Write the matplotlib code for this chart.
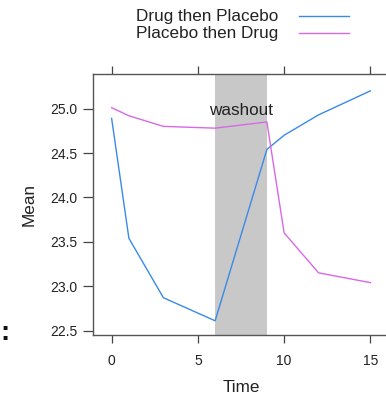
#!/usr/bin/env python3

import matplotlib
matplotlib.use("Agg")
import matplotlib.pyplot as plt
from matplotlib.lines import Line2D

plt.rcParams['font.family'] = ['Liberation Sans', 'DejaVu Sans']

time = [0, 1, 3, 6, 9, 10, 12, 15]
drug_then_placebo = [24.89, 23.54, 22.87, 22.61, 24.54, 24.70, 24.93, 25.20]
placebo_then_drug = [25.01, 24.92, 24.80, 24.78, 24.85, 23.60, 23.15, 23.04]
series_names = ["Drug then Placebo", "Placebo then Drug"]
series_colors = ["#3a8ae8", "#d868e4"]
washout = (6, 9)

x_ticks = [0, 5, 10, 15]
y_ticks = [22.5, 23.0, 23.5, 24.0, 24.5, 25.0]

W, H = 386, 394
fig = plt.figure(figsize=(W / 100, H / 100), dpi=100)
# right frame edge sits just past the image edge (cropped)
ax = fig.add_axes([93 / W, 1 - 335 / H, (389 - 93) / W, (335 - 74) / H])

ax.axvspan(washout[0], washout[1], color="#c8c8c8", lw=0, zorder=0)
ax.text((washout[0] + washout[1]) / 2, 24.93, "washout", ha="center", va="baseline",
	fontsize=12.3, color="#222222")

ax.plot(time, drug_then_placebo, color=series_colors[0], lw=1.0)
ax.plot(time, placebo_then_drug, color=series_colors[1], lw=1.0)

ax.set_xlim(-1.08, 16.08)
ax.set_ylim(22.45, 25.39)
ax.set_xticks(x_ticks)
ax.set_xticklabels([str(t) for t in x_ticks])
ax.set_yticks(y_ticks)
ax.set_yticklabels(["{0:.1f}".format(v) for v in y_ticks])

for s in ax.spines.values() :
	s.set_color("#555555")
	s.set_linewidth(1.0)

ax.tick_params(axis="x", which="both", direction="out", top=True, bottom=True,
	length=6, width=0.9, color="#444444", labelsize=10, pad=8, labelcolor="#222222")
ax.tick_params(axis="y", direction="out", left=True, right=False,
	length=7, width=0.9, color="#444444", labelsize=10, pad=4, labelcolor="#222222")

ax.set_xlabel("Time", fontsize=12.3, labelpad=8, color="#222222")
ax.set_ylabel("Mean", fontsize=12.3, labelpad=10, color="#222222")

# key at the top, text then line sample
for n, (name, col) in enumerate(zip(series_names, series_colors)) :
	yc = 1 - (16 + n * 17.5) / H
	fig.text(278 / W, yc, name, ha="right", va="center", fontsize=12.3, color="#222222")
	fig.add_artist(Line2D([299 / W, 349 / W], [1 - (15.5 + n * 17.5) / H] * 2,
		transform=fig.transFigure, color=col, lw=1.0))

# cropped leftover at the left edge of the picture
fig.text(0.0, 1 - 333 / H, ":", ha="left", va="center", fontsize=20, fontweight="bold",
	color="#111111")

fig.savefig("out.png", dpi=100)
